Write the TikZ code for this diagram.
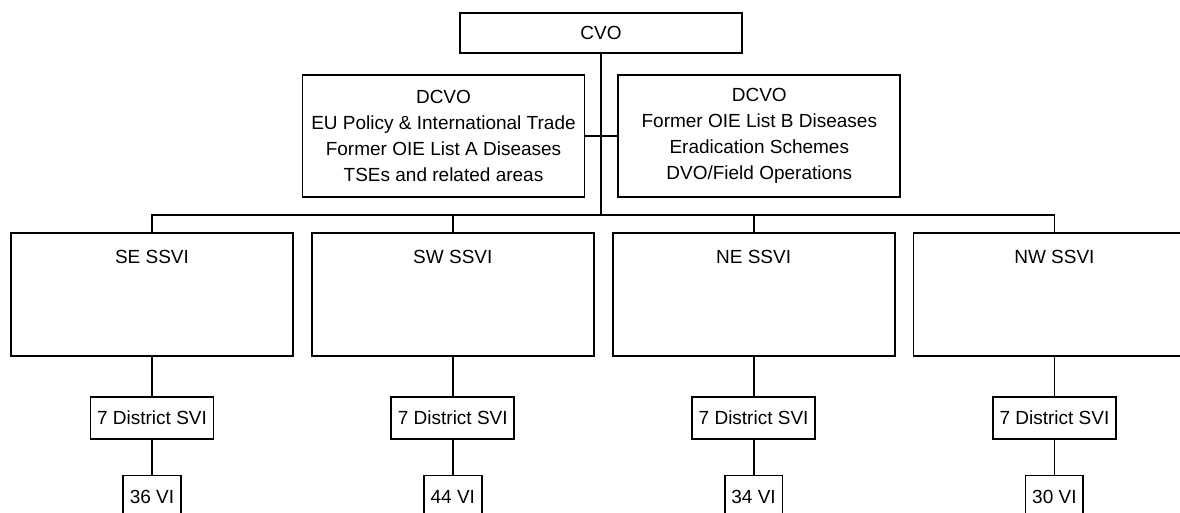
\documentclass[tikz,border=0pt]{standalone}
\usepackage{fontspec}
\setmainfont{Liberation Sans}
\usetikzlibrary{positioning}

\begin{document}
\begin{tikzpicture}[x=0.5pt,y=-0.5pt, font=\fontsize{9.5}{13}\selectfont,
    box/.style={draw, line width=0.9pt, minimum width=141pt, align=center},
    head/.style={box, minimum height=61.5pt},
    unit/.style={draw, line width=0.9pt, minimum height=21pt},
    link/.style={line width=0.9pt}, trunk/.style={line width=1.3pt}]
    \useasboundingbox (0,0) rectangle (1180,513);
    \node[box, minimum height=20pt] (cvo) at (601,33) {CVO};
    \node[box, minimum height=61pt] (dcvoa) at (443.5,136) {DCVO\\EU Policy \& International Trade\\Former OIE List A Diseases\\TSEs and related areas};
    \node[box, minimum height=61pt, right=16pt of dcvoa] (dcvob) {DCVO\\Former OIE List B Diseases\\Eradication Schemes\\DVO/Field Operations};
    \coordinate (bus) at (601,215);
    \node[head] (se) at (152,294.5) {};
    \node[head, right=8.5pt of se] (sw) {};
    \node[head, right=8.5pt of sw] (ne) {};
    \node[head, right=8.5pt of ne] (nw) {};
    \node[below=5.3pt of se.north] (setxt) {SE SSVI};
    \node[below=5.3pt of sw.north] (swtxt) {SW SSVI};
    \node[below=5.3pt of ne.north] (netxt) {NE SSVI};
    \node[below=5.3pt of nw.north] (nwtxt) {NW SSVI};
    \node[unit, below=19.5pt of se] (sed) {7 District SVI};
    \node[unit, below=19.5pt of sw] (swd) {7 District SVI};
    \node[unit, below=19.5pt of ne] (ned) {7 District SVI};
    \node[unit, below=19.5pt of nw] (nwd) {7 District SVI};
    \node[unit, below=17.5pt of sed] (sevi) {36 VI};
    \node[unit, below=17.5pt of swd] (swvi) {44 VI};
    \node[unit, below=17.5pt of ned] (nevi) {34 VI};
    \node[unit, below=17.5pt of nwd] (nwvi) {30 VI};
    \draw[trunk] (cvo) -- (bus);
    \draw[link] (dcvoa) -- (dcvob);
    \foreach \n in {se,sw,ne,nw} {
        \draw[link] (bus) -| (\n.north);
        \draw[link] (\n) -- (\n d);
        \draw[link] (\n d) -- (\n vi);
    }
\end{tikzpicture}
\end{document}
